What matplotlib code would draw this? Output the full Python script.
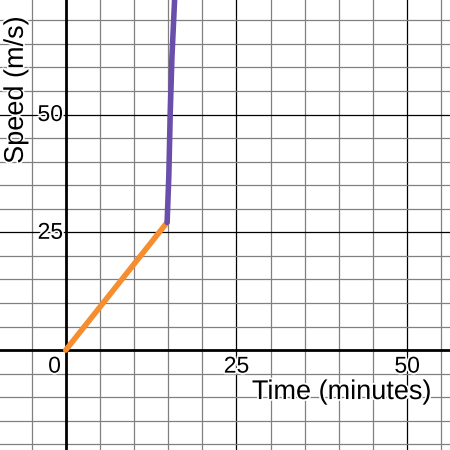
import matplotlib
matplotlib.use("Agg")
import matplotlib.pyplot as plt
import matplotlib.patheffects as pe
import numpy as np

# Data
orange_x = [0, 14.85]
orange_y = [0, 27.1]
purple_x = [14.85, 15.1, 15.3, 15.55, 15.95]
purple_y = [27.1, 37, 50, 62, 74.5]
tick_vals = [25, 50]
x_label = "Time (minutes)"
y_label = "Speed (m/s)"

plt.rcParams['font.family'] = ['Liberation Sans', 'DejaVu Sans']

fig = plt.figure(figsize=(4.5, 4.5), dpi=100)
ax = fig.add_axes([0, 0, 1, 1])
xmin, xmax = -9.62, 56.27
ymin, ymax = -21.2, 74.3
ax.set_xlim(xmin, xmax)
ax.set_ylim(ymin, ymax)
ax.axis('off')

# grid
for gx in np.arange(-5, 60, 5):
    if gx == 0:
        continue
    col = '#000000' if gx % 25 == 0 else '#808080'
    ax.axvline(gx, color=col, lw=0.9, zorder=1)
for gy in np.arange(-20, 75, 5):
    if gy == 0:
        continue
    col = '#000000' if gy % 25 == 0 else '#808080'
    ax.axhline(gy, color=col, lw=0.9, zorder=1)
ax.axvline(0, color='black', lw=2.0, zorder=2)
ax.axhline(0, color='black', lw=2.0, zorder=2)

halo = [pe.withStroke(linewidth=2.5, foreground='white')]
fs = 16.5
for v in tick_vals:
    ax.text(v, -3.4, str(v), ha='center', va='center', fontsize=fs, path_effects=halo, zorder=5)
    ax.text(-0.4, v, str(v), ha='right', va='center', fontsize=fs, path_effects=halo, zorder=5)
ax.text(-0.7, -3.4, "0", ha='right', va='center', fontsize=fs, path_effects=halo, zorder=5)

ax.text(53.6, -8.9, x_label, ha='right', va='center', fontsize=19.5, path_effects=halo, zorder=5)
ax.text(-7.3, 55.2, y_label, ha='center', va='center', rotation=90, fontsize=19.5, path_effects=halo, zorder=5)

ax.plot(orange_x, orange_y, color='#f68d2e', lw=4.0, solid_capstyle='round', zorder=4)
ax.plot(purple_x, purple_y, color='#6a4eab', lw=4.0, solid_capstyle='round', zorder=4)

fig.savefig("out.png", dpi=100)
